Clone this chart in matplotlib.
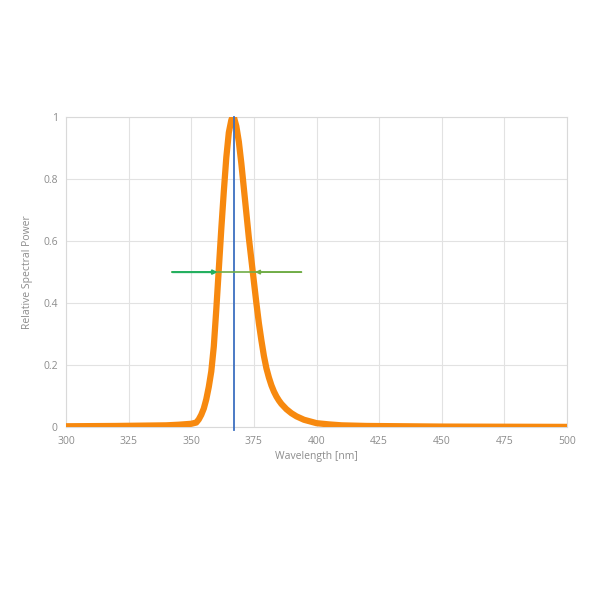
import matplotlib
matplotlib.use("Agg")
import matplotlib.pyplot as plt

plt.rcParams['font.family'] = ['Open Sans', 'DejaVu Sans']

# spectrum
wavelength = [300, 320, 340, 345, 350, 352, 353, 354, 355, 356, 357, 358, 359, 360, 361, 362,
              363, 364, 365, 366, 366.5, 367, 368, 369, 370, 371, 372, 373, 374, 375, 376,
              377, 378, 379, 380, 381, 382, 383, 384, 385, 386, 388, 390, 392, 395, 400,
              405, 410, 420, 450, 500]
power = [0.003, 0.004, 0.006, 0.008, 0.011, 0.015, 0.025, 0.04, 0.06, 0.09, 0.13, 0.18, 0.26,
         0.38, 0.51, 0.64, 0.76, 0.87, 0.95, 0.99, 1.0, 1.0, 0.97, 0.92, 0.85, 0.77, 0.69,
         0.61, 0.54, 0.47, 0.40, 0.335, 0.28, 0.23, 0.19, 0.16, 0.135, 0.115, 0.099, 0.086,
         0.075, 0.058, 0.045, 0.035, 0.024, 0.013, 0.009, 0.006, 0.004, 0.002, 0.001]

peak_nm = 367
fwhm_span = [342.5, 394.0]
fwhm_tips = [360.5, 375.5]
half_level = 0.5

x_ticks = [300, 325, 350, 375, 400, 425, 450, 475, 500]
y_ticks = [0, 0.2, 0.4, 0.6, 0.8, 1]
y_labels = ['0', '0.2', '0.4', '0.6', '0.8', '1']

grey = '#8c8c8c'

fig = plt.figure(figsize=(6, 6), dpi=100)
ax = fig.add_axes([0.11, 0.288, 0.835, 0.517])

ax.plot(wavelength, power, color='#f7890f', lw=4.5, solid_joinstyle='round',
        solid_capstyle='round', zorder=3)
ax.plot([peak_nm, peak_nm], [-0.01, 1.0], color='#3d6fc0', lw=1.3, zorder=4, clip_on=False)

# FWHM marker: full olive line, darker green arrow on the left
ax.plot(fwhm_span, [half_level, half_level], color='#70ad47', lw=1.2, zorder=4)
ax.annotate('', xy=(fwhm_tips[0], half_level), xytext=(fwhm_span[0], half_level),
            arrowprops=dict(arrowstyle='-|>', color='#22b060', lw=1.5, mutation_scale=6,
                            shrinkA=0, shrinkB=0), zorder=5)
ax.annotate('', xy=(fwhm_tips[1], half_level), xytext=(fwhm_span[1], half_level),
            arrowprops=dict(arrowstyle='-|>', color='#70ad47', lw=1.2, mutation_scale=6,
                            shrinkA=0, shrinkB=0), zorder=5)

ax.set_xlim(300, 500)
ax.set_ylim(0, 1)
ax.set_xticks(x_ticks)
ax.set_yticks(y_ticks)
ax.set_yticklabels(y_labels)
ax.grid(True, color='#e2e2e2', lw=0.8)
ax.set_axisbelow(True)
for s in ax.spines.values():
    s.set_color('#d9d9d9')
    s.set_linewidth(0.8)
ax.tick_params(length=0, labelsize=7.5, colors=grey, pad=6)
ax.set_xlabel('Wavelength [nm]', fontsize=7.5, color=grey, labelpad=3)
ax.set_ylabel('Relative Spectral Power', fontsize=7.5, color=grey, labelpad=7)

fig.savefig('out.png', dpi=100, facecolor='white')
